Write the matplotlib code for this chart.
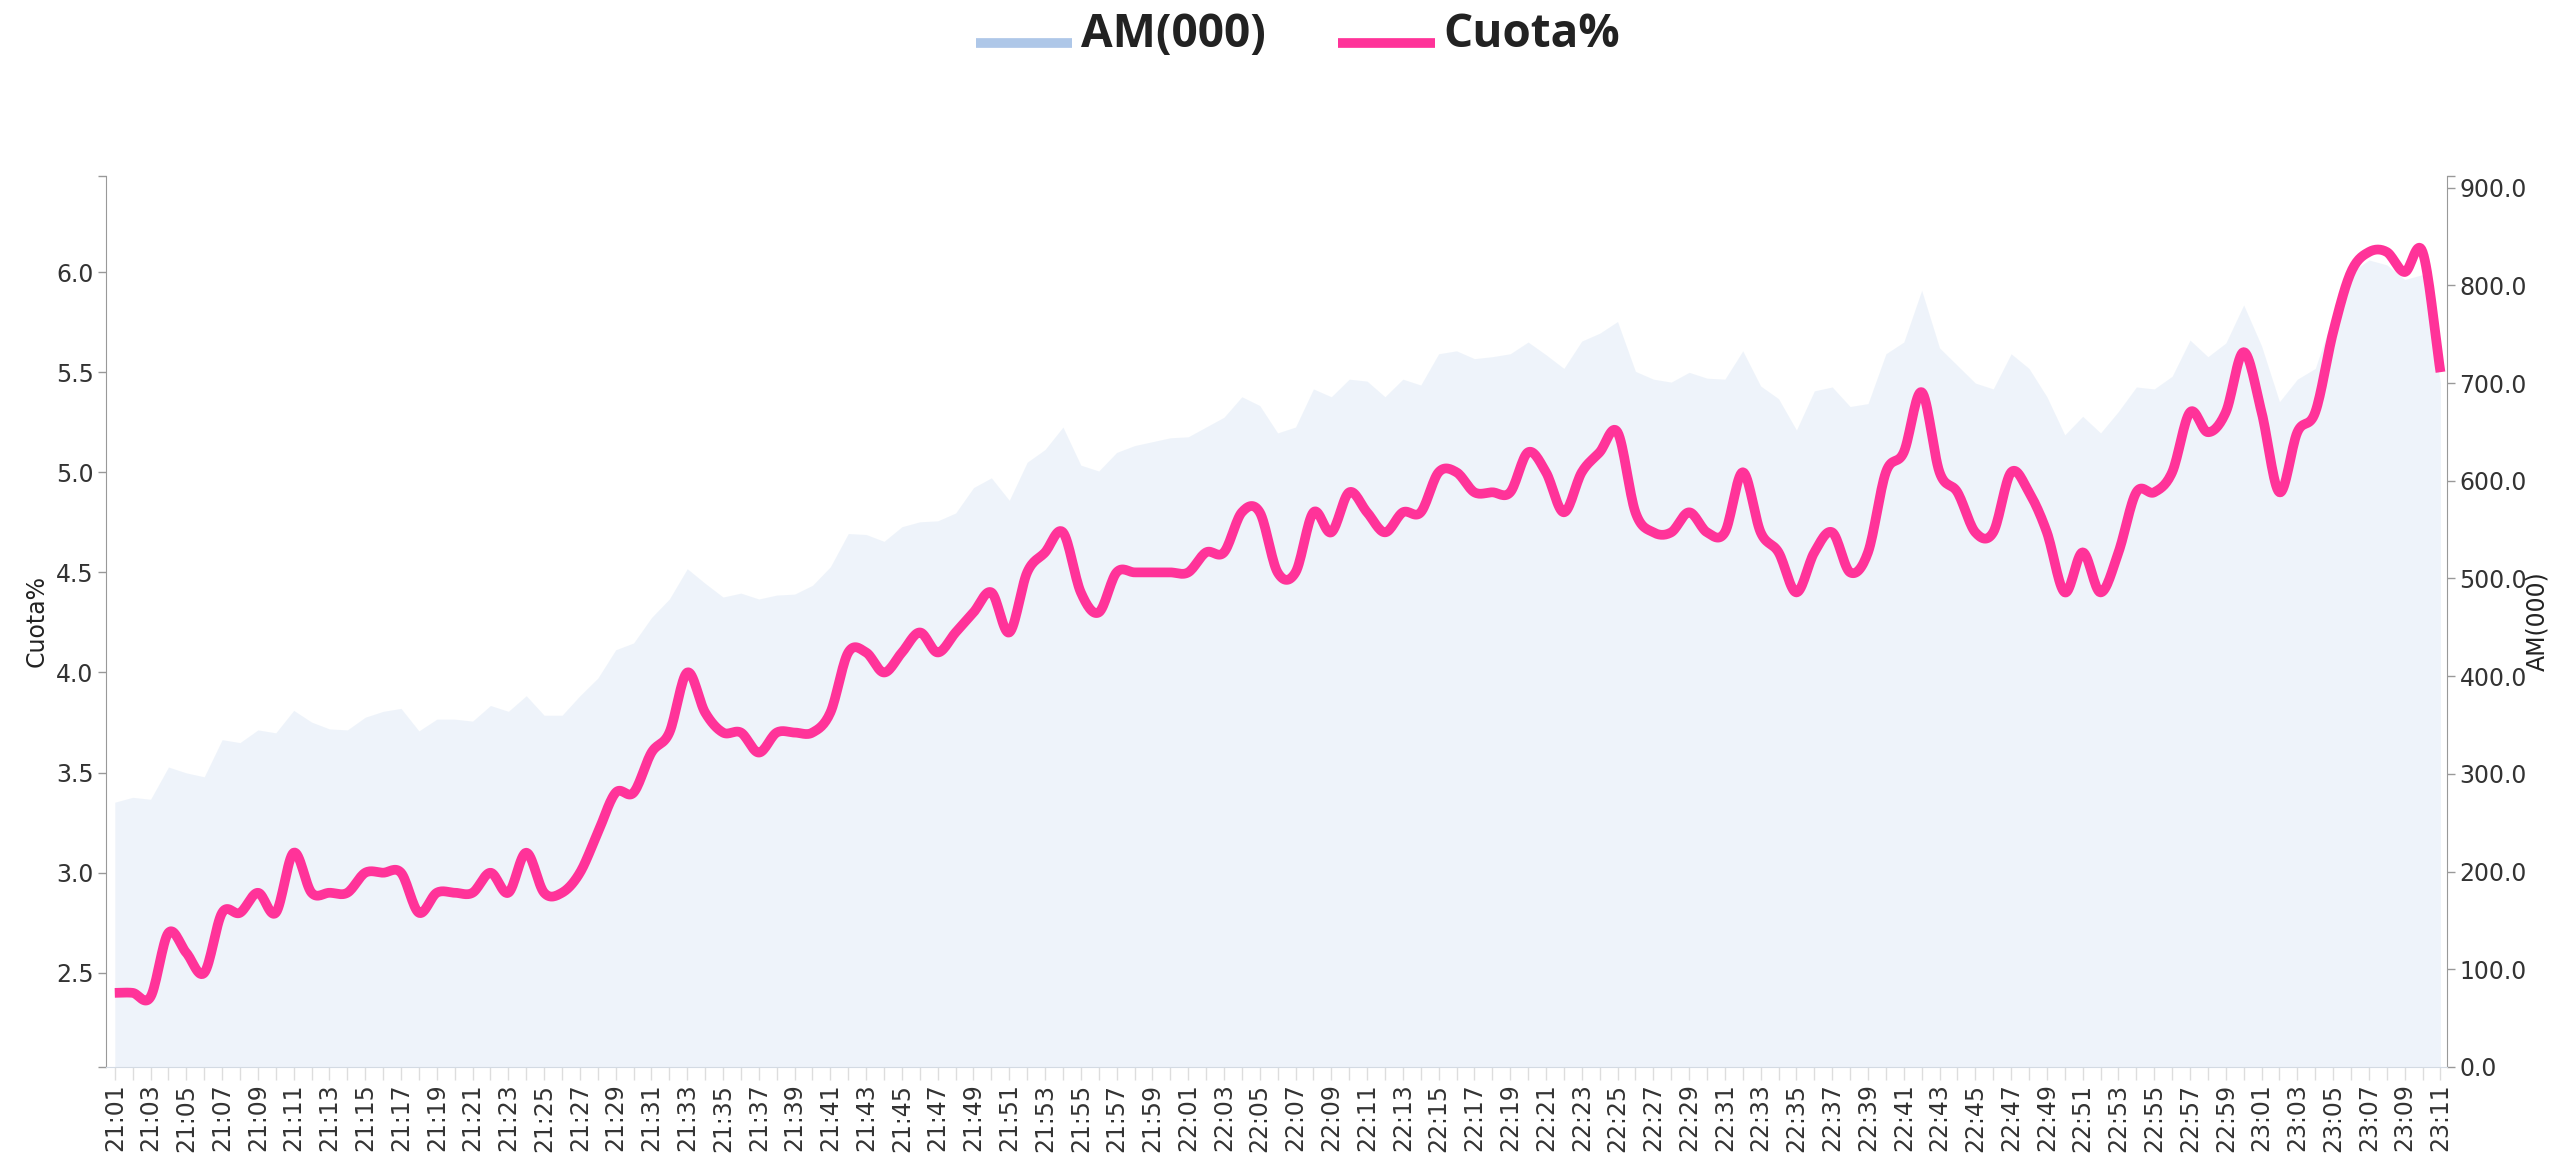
import numpy as np
import pandas as pd
import matplotlib
matplotlib.use("Agg")
import matplotlib.pyplot as plt
from matplotlib.lines import Line2D

# minute labels 21:01 .. 23:11
times = pd.date_range("2024-01-01 21:01", "2024-01-01 23:11", freq="min").strftime("%H:%M").tolist()

cuota = [2.4, 2.4, 2.38, 2.7, 2.6, 2.5, 2.8, 2.8, 2.9, 2.8,
         3.1, 2.9, 2.9, 2.9, 3.0, 3.0, 3.0, 2.8, 2.9, 2.9,
         2.9, 3.0, 2.9, 3.1, 2.9, 2.9, 3.0, 3.2, 3.4, 3.4,
         3.6, 3.7, 4.0, 3.8, 3.7, 3.7, 3.6, 3.7, 3.7, 3.7,
         3.8, 4.1, 4.1, 4.0, 4.1, 4.2, 4.1, 4.2, 4.3, 4.4,
         4.2, 4.5, 4.6, 4.7, 4.4, 4.3, 4.5, 4.5, 4.5, 4.5,
         4.5, 4.6, 4.6, 4.8, 4.8, 4.5, 4.5, 4.8, 4.7, 4.9,
         4.8, 4.7, 4.8, 4.8, 5.0, 5.0, 4.9, 4.9, 4.9, 5.1,
         5.0, 4.8, 5.0, 5.1, 5.2, 4.8, 4.7, 4.7, 4.8, 4.7,
         4.7, 5.0, 4.7, 4.6, 4.4, 4.6, 4.7, 4.5, 4.6, 5.0,
         5.1, 5.4, 5.0, 4.9, 4.7, 4.7, 5.0, 4.9, 4.7, 4.4,
         4.6, 4.4, 4.6, 4.9, 4.9, 5.0, 5.3, 5.2, 5.3, 5.6,
         5.3, 4.9, 5.2, 5.3, 5.7, 6.0, 6.1, 6.1, 6.0, 6.1,
         5.5]

am = [271, 276, 274, 307, 301, 297, 335, 332, 345, 342,
      365, 353, 346, 345, 358, 364, 367, 344, 356, 356,
      354, 370, 364, 380, 360, 360, 380, 398, 427, 434,
      460, 479, 510, 495, 481, 485, 479, 483, 484, 493,
      512, 546, 545, 538, 553, 558, 559, 567, 593, 603,
      580, 619, 632, 655, 616, 610, 629, 636, 640, 644,
      645, 655, 665, 686, 677, 649, 655, 694, 686, 704,
      702, 686, 704, 698, 730, 733, 725, 727, 730, 742,
      729, 715, 743, 751, 763, 712, 704, 701, 711, 705,
      704, 733, 697, 684, 652, 692, 696, 676, 679, 730,
      742, 795, 736, 718, 700, 694, 730, 715, 686, 647,
      666, 649, 671, 696, 694, 707, 744, 727, 741, 780,
      738, 681, 704, 715, 769, 813, 826, 821, 806, 811,
      700]

left_ticks = [2.5, 3.0, 3.5, 4.0, 4.5, 5.0, 5.5, 6.0]
right_ticks = [0, 100, 200, 300, 400, 500, 600, 700, 800, 900]

PINK = "#ff3399"
BLUE = "#aec7e8"


def smooth(yv, n=16):
    # catmull-rom through every point (equal x spacing)
    yv = np.asarray(yv, float)
    m = np.zeros_like(yv)
    m[1:-1] = (yv[2:] - yv[:-2]) / 2
    m[0] = yv[1] - yv[0]
    m[-1] = yv[-1] - yv[-2]
    t = np.linspace(0, 1, n, endpoint=False)
    h00 = 2 * t**3 - 3 * t**2 + 1
    h10 = t**3 - 2 * t**2 + t
    h01 = -2 * t**3 + 3 * t**2
    h11 = t**3 - t**2
    xs, ys = [], []
    for k in range(len(yv) - 1):
        xs.append(k + t)
        ys.append(h00 * yv[k] + h10 * m[k] + h01 * yv[k + 1] + h11 * m[k + 1])
    xs.append([len(yv) - 1])
    ys.append([yv[-1]])
    return np.concatenate(xs), np.concatenate(ys)


x = np.arange(len(times))

fig = plt.figure(figsize=(25.73, 11.62), dpi=100)
ax = fig.add_axes([0.0412, 0.0818, 0.9098, 0.7668])
ax2 = ax.twinx()
ax.set_zorder(2)
ax2.set_zorder(1)
ax.patch.set_visible(False)

# AM(000) area on the right axis
ax2.fill_between(x, 0, am, color=BLUE, alpha=0.2, linewidth=0)
ax2.set_ylim(0, 912)
ax2.set_yticks(right_ticks)
ax2.set_yticklabels([f"{v:.1f}" for v in right_ticks])
ax2.set_yticks([0, 912], minor=True)

# Cuota% line on the left axis
sx, sy = smooth(cuota)
ax.plot(sx, sy, color=PINK, lw=7, solid_capstyle="butt", solid_joinstyle="round")
ax.set_ylim(2.03, 6.48)
ax.set_yticks(left_ticks)
ax.set_yticklabels([f"{v:.1f}" for v in left_ticks])
ax.set_yticks([2.03, 6.48], minor=True)

ax.set_xlim(-0.49, 130.36)
ax.set_xticks(x)
ax.set_xticklabels([t if i % 2 == 0 else "" for i, t in enumerate(times)], rotation=90)

for a in (ax, ax2):
    for sp in a.spines.values():
        sp.set_visible(False)
ax.spines["left"].set_visible(True)
ax.spines["left"].set_color("#999999")
ax.spines["bottom"].set_visible(True)
ax.spines["bottom"].set_color("#d3dae3")
ax2.spines["right"].set_visible(True)
ax2.spines["right"].set_color("#999999")

ax.tick_params(axis="x", length=9, width=1, color="#dddddd", labelsize=17,
               labelcolor="#333333", pad=3)
ax.tick_params(axis="y", which="both", length=6, width=1, color="#999999",
               labelsize=17, labelcolor="#333333", pad=3)
ax2.tick_params(axis="y", which="both", length=6, width=1, color="#999999",
                labelsize=17, labelcolor="#333333", pad=3)

ax.set_ylabel("Cuota%", fontsize=17, color="#222222")
ax.yaxis.set_label_coords(-0.0244, 0.5)
ax2.set_ylabel("AM(000)", fontsize=17, color="#222222", rotation=90)
ax2.yaxis.set_label_coords(1.0333, 0.5)

# legend at the top
W, H = 2573, 1162
fig.add_artist(Line2D([976 / W, 1072 / W], [1 - 42.5 / H] * 2, color=BLUE, lw=7,
                      transform=fig.transFigure, solid_capstyle="butt"))
fig.text(1081 / W, 1 - 46.7 / H, "AM(000)", fontsize=33, fontweight="bold",
         family="Open Sans", color="#222222", va="baseline", ha="left")
fig.add_artist(Line2D([1338 / W, 1435 / W], [1 - 42.5 / H] * 2, color=PINK, lw=7,
                      transform=fig.transFigure, solid_capstyle="butt"))
fig.text(1443 / W, 1 - 46.7 / H, "Cuota%", fontsize=33, fontweight="bold",
         family="Open Sans", color="#222222", va="baseline", ha="left")

fig.savefig("out.png", dpi=100)
